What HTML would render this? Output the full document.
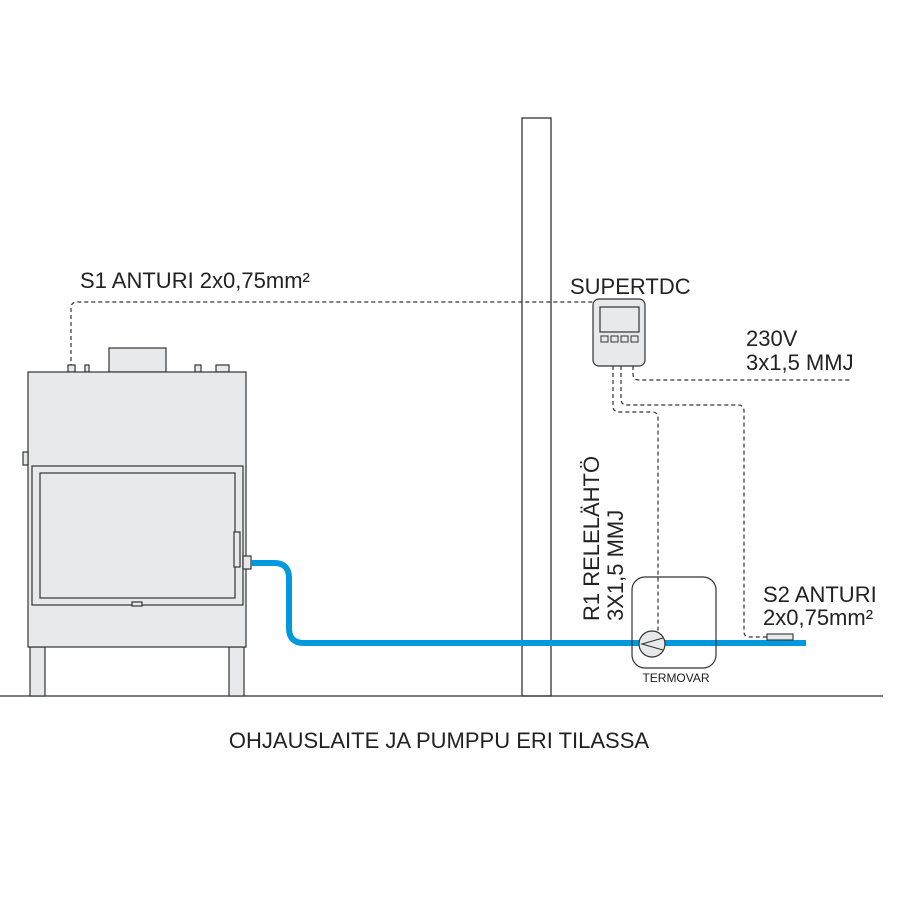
<!DOCTYPE html>
<html><head><meta charset="utf-8"><style>body{margin:0;background:#fff}svg{display:block}text{font-family:"Liberation Sans",sans-serif;fill:#222}</style></head><body>
<svg width="900" height="900" viewBox="0 0 900 900">
<rect x="522" y="118" width="29" height="578" fill="#fff" stroke="#333" stroke-width="1.3"/>
<g fill="none" stroke="#333" stroke-width="1.2" stroke-dasharray="4,3">
<path d="M71 368 V308 Q71 302 77 302 H593"/>
<path d="M613 366 V406 Q613 412 619 412 H652 Q658 412 658 418 V640"/>
<path d="M621 366 V399 Q621 405 627 405 H738 Q744 405 744 411 V632 Q744 637 750 637 H767"/>
<path d="M633 366 V374 Q633 380 639 380 H850"/>
</g>
<line x1="0" y1="696" x2="883" y2="696" stroke="#333" stroke-width="1.3"/>
<g stroke="#333" stroke-width="1.2" fill="#e8e9ea">
<rect x="109" y="348" width="57" height="24"/>
<rect x="68" y="365" width="7" height="7"/>
<rect x="85" y="365" width="4" height="7"/>
<rect x="195" y="365" width="6" height="7"/>
<rect x="216" y="365" width="13" height="7"/>
<rect x="30" y="647" width="15" height="49"/>
<rect x="229" y="647" width="15" height="49"/>
<rect x="28" y="372" width="218" height="275"/>
<rect x="23" y="452" width="5" height="13"/>
<rect x="32" y="466" width="211" height="139"/>
<rect x="40" y="473" width="195" height="125"/>
<rect x="234" y="532" width="6" height="35"/>
<rect x="132" y="602" width="10" height="4"/>
<rect x="243" y="556" width="8" height="13"/>
</g>
<path d="M251 563 H274 Q289 563 289 578 V628 Q289 643 304 643 H806" fill="none" stroke="#0099dd" stroke-width="6"/>
<rect x="767" y="634" width="26" height="6" fill="#e8e9ea" stroke="#333" stroke-width="1.1"/>
<rect x="632" y="577" width="84" height="91" rx="13" fill="none" stroke="#333" stroke-width="1.2"/>
<circle cx="652" cy="644" r="13" fill="#e8e9ea" stroke="#333" stroke-width="1.2"/>
<path d="M663 638 L642 644 L663 650" fill="none" stroke="#333" stroke-width="1.1"/>
<text x="676" y="682" font-size="12" text-anchor="middle">TERMOVAR</text>
<rect x="593" y="299" width="52" height="67" rx="6" fill="#e8e9ea" stroke="#333" stroke-width="1.2"/>
<rect x="600" y="307" width="39" height="25" fill="#e8e9ea" stroke="#333" stroke-width="1.2"/>
<g fill="#e8e9ea" stroke="#333" stroke-width="1"><rect x="601" y="336" width="7" height="6"/><rect x="611" y="336" width="7" height="6"/><rect x="621" y="336" width="7" height="6"/><rect x="631" y="336" width="7" height="6"/></g>
<text x="80" y="288" font-size="22">S1 ANTURI 2x0,75mm²</text>
<text x="570" y="294" font-size="22">SUPERTDC</text>
<text x="746" y="346" font-size="22">230V</text>
<text x="746" y="370" font-size="22">3x1,5 MMJ</text>
<text x="763" y="602" font-size="22">S2 ANTURI</text>
<text x="763" y="625" font-size="22">2x0,75mm²</text>
<text transform="translate(599,621) rotate(-90)" font-size="22">R1 RELELÄHTÖ</text>
<text transform="translate(623,621) rotate(-90)" font-size="22">3X1,5 MMJ</text>
<text x="439" y="748" font-size="22" text-anchor="middle">OHJAUSLAITE JA PUMPPU ERI TILASSA</text>
</svg>
</body></html>
